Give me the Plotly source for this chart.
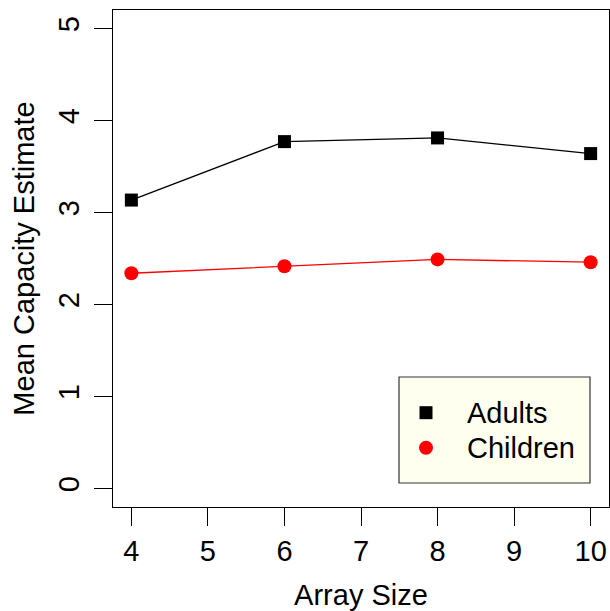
import plotly.graph_objects as go

# Mean capacity estimates by array size
array_size = [4, 6, 8, 10]
adults = [3.135, 3.77, 3.81, 3.64]
children = [2.34, 2.415, 2.49, 2.46]

x_ticks = [4, 5, 6, 7, 8, 9, 10]
y_ticks = [0, 1, 2, 3, 4, 5]

FONT = "Liberation Sans, Arial, Helvetica, sans-serif"
FS = 29

# plot area in pixels (for placing the legend box in paper coordinates)
PL, PR, PT, PB = 113, 609, 10, 507
W, H = PR - PL, PB - PT


def px(x):
    return (x - PL) / W


def py(y):
    return (PB - y) / H


fig = go.Figure()

fig.add_trace(go.Scatter(
    x=array_size, y=adults, mode="lines+markers", name="Adults", showlegend=False,
    line=dict(color="black", width=1.3),
    marker=dict(symbol="square", size=13, color="black"),
))
fig.add_trace(go.Scatter(
    x=array_size, y=children, mode="lines+markers", name="Children", showlegend=False,
    line=dict(color="red", width=1.3),
    marker=dict(symbol="circle", size=14, color="red"),
))

# legend box
fig.add_shape(type="rect", xref="paper", yref="paper",
              x0=px(399), x1=px(590), y0=py(483), y1=py(377),
              fillcolor="#FFFFF0", line=dict(color="#333333", width=1.2),
              layer="below")

# legend symbols (pixel-sized, anchored in paper coordinates)
fig.add_shape(type="rect", xref="paper", yref="paper",
              xsizemode="pixel", ysizemode="pixel",
              xanchor=px(426), yanchor=py(412.7),
              x0=-6.5, x1=6.5, y0=-6.5, y1=6.5,
              fillcolor="black", line=dict(width=0))
fig.add_shape(type="circle", xref="paper", yref="paper",
              xsizemode="pixel", ysizemode="pixel",
              xanchor=px(426), yanchor=py(447.7),
              x0=-7, x1=7, y0=-7, y1=7,
              fillcolor="red", line=dict(width=0))

# legend labels
for label, ycen in (("Adults", 412.7), ("Children", 447.7)):
    fig.add_annotation(text=label, xref="paper", yref="paper",
                       x=px(465), y=py(ycen), xanchor="left", yanchor="middle",
                       showarrow=False,
                       font=dict(family=FONT, size=FS, color="black"))

axis_common = dict(
    showgrid=False, zeroline=False, showline=True, mirror=True,
    linecolor="black", linewidth=1.3,
    ticks="outside", ticklen=18, tickwidth=1.3, tickcolor="black",
    tickfont=dict(family=FONT, size=FS, color="black"),
    title_font=dict(family=FONT, size=FS, color="black"),
)

fig.update_layout(
    width=610, height=611,
    margin=dict(l=PL, r=610 - PR, t=PT, b=611 - PB),
    plot_bgcolor="rgba(0,0,0,0)", paper_bgcolor="white",
    font=dict(family=FONT, size=FS, color="black"),
    showlegend=False,
    xaxis=dict(range=[3.76, 10.24], tickvals=x_ticks, title_text="Array Size",
               title_standoff=18, **axis_common),
    yaxis=dict(range=[-0.2, 5.2], tickvals=y_ticks, tickangle=-90,
               ticklabelstandoff=3,
               title_text="Mean Capacity Estimate", title_standoff=10, **axis_common),
)

fig.write_html("out.html")
